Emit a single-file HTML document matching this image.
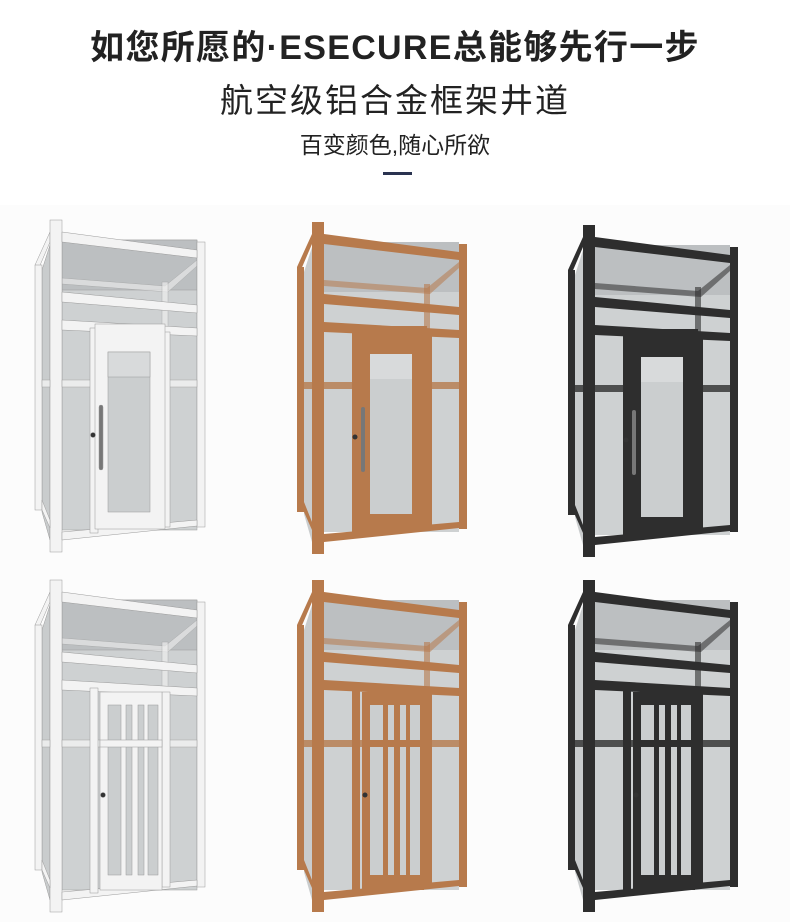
<!DOCTYPE html>
<html><head><meta charset="utf-8"><style>
html,body{margin:0;padding:0;background:#fff}
body{width:790px;height:922px;position:relative;overflow:hidden;font-family:"Liberation Sans","Noto Sans CJK SC",sans-serif}
.t1{position:absolute;top:20px;left:0;width:790px;text-align:center;font-size:34px;font-weight:bold;color:#222;letter-spacing:1.3px}
.t2{position:absolute;top:74px;left:0;width:790px;text-align:center;font-size:33px;color:#222;letter-spacing:2px}
.t3{position:absolute;top:126px;left:0;width:790px;text-align:center;font-size:23px;color:#222}
.bar{position:absolute;top:172px;left:383px;width:29px;height:3px;background:#2a3350}
svg{position:absolute;left:0;top:0}
</style></head><body>
<div class="t1">如您所愿的·ESECURE总能够先行一步</div>
<div class="t2">航空级铝合金框架井道</div>
<div class="t3">百变颜色,随心所欲</div>
<div class="bar"></div>
<svg width="790" height="922" viewBox="0 0 790 922">
<defs>
<g id="shaft">
 <polygon points="-8,50 0,25 0,320 -8,292" fill="#c9cccd"/>
 <rect x="12" y="20" width="135" height="290" fill="#ced1d2"/>
 <rect x="12" y="20" width="135" height="50" fill="#bcbfc1"/>
 <polygon points="12,58 115,66 147,40 147,46 118,72 12,64" fill="currentColor" opacity="0.55"/>
 <rect x="112" y="62" width="6" height="45" fill="currentColor" opacity="0.6"/>
 <polygon points="-15,45 0,12 0,22 -12,50" fill="currentColor"/>
 <rect x="-15" y="45" width="7" height="245" fill="currentColor"/>
 <rect x="0" y="0" width="12" height="332" fill="currentColor"/>
 <rect x="147" y="22" width="8" height="285" fill="currentColor"/>
 <polygon points="12,12 147,30 147,38 12,22" fill="currentColor"/>
 <polygon points="12,72 147,85 147,93 12,82" fill="currentColor"/>
 <polygon points="12,100 147,108 147,116 12,110" fill="currentColor"/>
 <rect x="12" y="160" width="135" height="7" fill="currentColor" opacity="0.8"/>
 <rect x="-8" y="160" width="8" height="7" fill="currentColor" opacity="0.8"/>
 <polygon points="-8,280 0,300 0,308 -8,290" fill="currentColor"/>
 <polygon points="12,312 147,300 147,306 12,320" fill="currentColor"/>
 <rect x="40" y="108" width="8" height="205" fill="currentColor"/>
 <rect x="112" y="112" width="8" height="195" fill="currentColor"/>
</g>
<g id="doorA">
 <rect x="45" y="104" width="70" height="205" fill="currentColor"/>
 <rect x="58" y="132" width="42" height="160" fill="#cbcecf"/>
 <rect x="58" y="132" width="42" height="25" fill="#d8dadb"/>
 <rect x="49" y="185" width="4" height="65" rx="2" fill="#777"/>
 <circle cx="43" cy="215" r="2.5" fill="#333"/>
</g>
<g id="doorB">
 <rect x="50" y="112" width="62" height="198" fill="currentColor"/>
 <rect x="58" y="125" width="13" height="170" fill="#cbcecf"/>
 <rect x="76" y="125" width="6" height="170" fill="#cbcecf"/>
 <rect x="88" y="125" width="6" height="170" fill="#cbcecf"/>
 <rect x="98" y="125" width="10" height="170" fill="#cbcecf"/>
 <rect x="50" y="160" width="62" height="7" fill="currentColor"/>
 <circle cx="53" cy="215" r="2.5" fill="#333"/>
</g>
</defs>
<rect x="0" y="205" width="790" height="717" fill="#fcfcfc"/>
<g transform="translate(50,220)" style="color:#f3f3f3" stroke="#9a9a9a" stroke-width="0.5"><use href="#shaft"/><use href="#doorA"/></g>
<g transform="translate(50,580)" style="color:#f3f3f3" stroke="#9a9a9a" stroke-width="0.5"><use href="#shaft"/><use href="#doorB"/></g>
<g transform="translate(312,222)" style="color:#b77a4c"><use href="#shaft"/><use href="#doorA"/></g>
<g transform="translate(312,580)" style="color:#b77a4c"><use href="#shaft"/><use href="#doorB"/></g>
<g transform="translate(583,225)" style="color:#2e2e2e"><use href="#shaft"/><use href="#doorA"/></g>
<g transform="translate(583,580)" style="color:#2e2e2e"><use href="#shaft"/><use href="#doorB"/></g>
</svg>
</body></html>
